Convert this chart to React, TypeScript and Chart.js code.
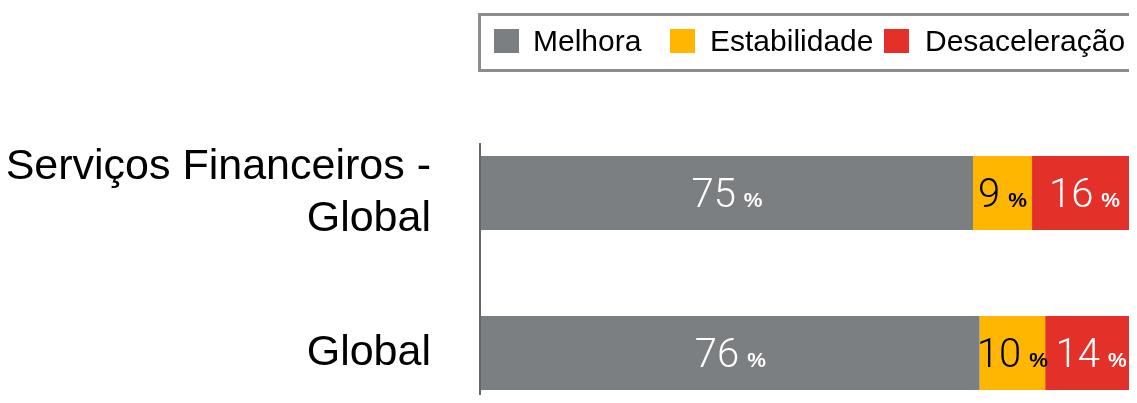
import React, { useEffect, useRef } from "react";
import { Chart, registerables } from "chart.js";

Chart.register(...registerables);

const categories: (string | string[])[] = [["Serviços Financeiros -", "Global"], "Global"];
const seriesNames = ["Melhora", "Estabilidade", "Desaceleração"];
const melhora = [75, 76];
const estabilidade = [9, 10];
const desaceleracao = [16, 14];
const seriesColors = ["#7c7f82", "#ffb600", "#e3312a"];
const labelColors = ["#ffffff", "#000000", "#ffffff"];

const FONT = '"Liberation Sans", Arial, Helvetica, sans-serif';

const valueLabelPlugin = {
  id: "valueLabels",
  afterDatasetsDraw(chart: any) {
    const ctx = chart.ctx;
    chart.data.datasets.forEach((ds: any, di: number) => {
      const meta = chart.getDatasetMeta(di);
      meta.data.forEach((bar: any, i: number) => {
        const v = ds.data[i];
        const cx = (bar.x + bar.base) / 2;
        const cy = bar.y;
        ctx.save();
        const numFont = `300 40px Roboto, ${FONT}`;
        const pctFont = `bold 21px ${FONT}`;
        ctx.font = numFont;
        const numW = ctx.measureText(String(v)).width;
        ctx.font = pctFont;
        const pctW = ctx.measureText("%").width;
        const gap = 8;
        const total = numW + gap + pctW;
        const x0 = cx - total / 2;
        const baseline = cy + 14;
        ctx.fillStyle = labelColors[di];
        ctx.textAlign = "left";
        ctx.textBaseline = "alphabetic";
        ctx.font = numFont;
        ctx.fillText(String(v), x0, baseline);
        ctx.font = pctFont;
        ctx.fillText("%", x0 + numW + gap, baseline);
        ctx.restore();
      });
    });
  },
};

const axisLinePlugin = {
  id: "axisLine",
  afterDraw(chart: any) {
    const ctx = chart.ctx;
    const x = chart.chartArea.left - 1;
    ctx.save();
    ctx.strokeStyle = "#666666";
    ctx.lineWidth = 2;
    ctx.beginPath();
    ctx.moveTo(x, 135);
    ctx.lineTo(x, chart.height);
    ctx.stroke();
    ctx.restore();
  },
};

export default function App() {
  const ref = useRef<HTMLCanvasElement | null>(null);

  useEffect(() => {
    if (!ref.current) return;
    const values = [melhora, estabilidade, desaceleracao];
    const chart = new Chart(ref.current, {
      type: "bar",
      data: {
        labels: categories,
        datasets: seriesNames.map((name, i) => ({
          label: name,
          data: values[i],
          backgroundColor: seriesColors[i],
          borderWidth: 0,
          barPercentage: 74 / 160,
          categoryPercentage: 1,
        })),
      },
      options: {
        indexAxis: "y",
        responsive: false,
        animation: false,
        devicePixelRatio: 1,
        layout: { padding: { top: 105, right: 0, bottom: 0, left: 0 } },
        plugins: {
          legend: { display: false },
          tooltip: { enabled: false },
          title: { display: false },
        },
        scales: {
          x: {
            stacked: true,
            min: 0,
            max: 100,
            display: false,
          },
          y: {
            stacked: true,
            grid: { display: false, drawTicks: false },
            border: { display: false },
            ticks: {
              color: "#000000",
              font: { family: FONT, size: 43, lineHeight: 52 / 43 },
              padding: 50,
            },
            afterFit(scale: any) {
              scale.width = 473;
              scale.paddingTop = 0;
              scale.paddingBottom = 0;
            },
          },
        },
      },
      plugins: [valueLabelPlugin, axisLinePlugin],
    });
    return () => chart.destroy();
  }, []);

  const legendItems = [
    { sq: 486, tx: 525 },
    { sq: 662, tx: 702 },
    { sq: 876, tx: 917 },
  ];

  return (
    <div style={{ position: "relative", width: 1129, height: 387, overflow: "hidden" }}>
      <canvas
        ref={ref}
        width={1129}
        height={425}
        style={{ position: "absolute", left: 0, top: 0, width: 1129, height: 425 }}
      />
      <div
        style={{
          position: "absolute",
          left: 470,
          top: 5,
          width: 670,
          height: 53,
          border: "3px solid #8c8c8c",
          background: "transparent",
        }}
      />
      {seriesNames.map((name, i) => (
        <React.Fragment key={name}>
          <div
            style={{
              position: "absolute",
              left: legendItems[i].sq,
              top: 21,
              width: 25,
              height: 24,
              background: seriesColors[i],
            }}
          />
          <div
            style={{
              position: "absolute",
              left: legendItems[i].tx,
              top: 18,
              fontFamily: FONT,
              fontSize: 30,
              lineHeight: "30px",
              color: "#000",
              whiteSpace: "nowrap",
            }}
          >
            {name}
          </div>
        </React.Fragment>
      ))}
    </div>
  );
}
